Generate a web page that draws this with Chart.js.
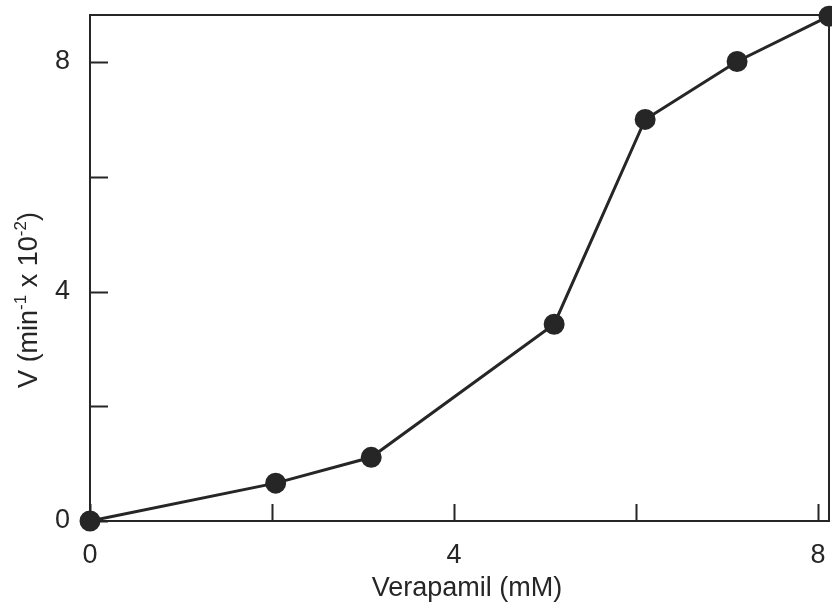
<!DOCTYPE html>
<html>
<head>
<meta charset="utf-8">
<script src="https://cdn.jsdelivr.net/npm/chart.js@4.4.1/dist/chart.umd.min.js"></script>
<style>
  html, body { margin: 0; padding: 0; background: #fff; }
  #wrap { width: 832px; height: 609px; }
</style>
</head>
<body>
<div id="wrap"><canvas id="chart" width="832" height="609"></canvas></div>
<script>
// data
const verapamil = [0, 2.04, 3.09, 5.1, 6.1, 7.11, 8.12];
const velocity = [0, 0.66, 1.11, 3.43, 7.0, 8.01, 8.8];
const xTicks = [0, 2, 4, 6, 8];
const yTicks = [0, 2, 4, 6, 8];
const labelledTicks = [0, 4, 8];
const xTitle = 'Verapamil (mM)';
// y title pieces: [text, superscript?]
const yTitle = [['V (min', false], ['-1', true], [' x 10', false], ['-2', true], [')', false]];

const ink = '#262626';
const family = "'Liberation Sans', Arial, sans-serif";
const font = { family, size: 27 };

// draws a run of text with raised small pieces, centred on 0,0 of the current transform
function drawRich(ctx, parts, size) {
    const big = `${size}px ${family}`;
    const small = `${Math.round(size * 0.62)}px ${family}`;
    let total = 0;
    parts.forEach(([t, sup]) => { ctx.font = sup ? small : big; total += ctx.measureText(t).width; });
    let x = -total / 2;
    parts.forEach(([t, sup]) => {
        ctx.font = sup ? small : big;
        ctx.fillText(t, x, sup ? -size * 0.42 : 0);
        x += ctx.measureText(t).width;
    });
}

// frame, inward tick marks and the two axis titles
const frame = {
    id: 'frame',
    afterDatasetsDraw(chart) {
        const { ctx, chartArea: a, scales } = chart;
        ctx.save();
        ctx.strokeStyle = ink;
        ctx.lineWidth = 2;
        ctx.strokeRect(a.left, a.top, a.right - a.left, a.bottom - a.top);
        ctx.beginPath();
        xTicks.forEach(v => {
            const x = Math.round(scales.x.getPixelForValue(v)) + 0.5;
            ctx.moveTo(x, a.bottom);
            ctx.lineTo(x, a.bottom - 17);
        });
        yTicks.forEach(v => {
            const y = Math.round(scales.y.getPixelForValue(v)) + 0.5;
            ctx.moveTo(a.left, y);
            ctx.lineTo(a.left + 18, y);
        });
        ctx.stroke();

        ctx.fillStyle = ink;
        ctx.textBaseline = 'alphabetic';
        ctx.textAlign = 'left';
        ctx.save();
        ctx.translate(467, 596);
        drawRich(ctx, [[xTitle, false]], font.size);
        ctx.restore();

        ctx.save();
        ctx.translate(37, 300);
        ctx.rotate(-Math.PI / 2);
        drawRich(ctx, yTitle, font.size);
        ctx.restore();
        ctx.restore();
    }
};

new Chart(document.getElementById('chart'), {
    type: 'line',
    data: {
        datasets: [{
            data: verapamil.map((x, i) => ({ x, y: velocity[i] })),
            borderColor: ink,
            backgroundColor: ink,
            borderWidth: 3,
            pointRadius: 9,
            pointHoverRadius: 9,
            tension: 0,
            clip: false
        }]
    },
    options: {
        responsive: false,
        animation: false,
        events: [],
        layout: { autoPadding: false, padding: { top: 15, right: 3, left: 0, bottom: 0 } },
        plugins: { legend: { display: false }, tooltip: { enabled: false } },
        scales: {
            x: {
                type: 'linear',
                min: 0,
                max: 8.12,
                afterBuildTicks: s => { s.ticks = xTicks.map(value => ({ value })); },
                afterFit: s => { s.height = 88; s.paddingLeft = 0; s.paddingRight = 0; },
                grid: { display: false, drawTicks: false },
                border: { display: false },
                ticks: {
                    color: ink, font, padding: 18,
                    autoSkip: false, maxRotation: 0,
                    callback: v => labelledTicks.includes(v) ? String(v) : ''
                }
            },
            y: {
                type: 'linear',
                min: 0,
                max: 8.82,
                afterBuildTicks: s => { s.ticks = yTicks.map(value => ({ value })); },
                afterFit: s => { s.width = 90; s.paddingTop = 0; s.paddingBottom = 0; },
                grid: { display: false, drawTicks: false },
                border: { display: false },
                ticks: {
                    color: ink, font, padding: 20,
                    autoSkip: false,
                    callback: v => labelledTicks.includes(v) ? String(v) : ''
                }
            }
        }
    },
    plugins: [frame]
});
</script>
</body>
</html>
